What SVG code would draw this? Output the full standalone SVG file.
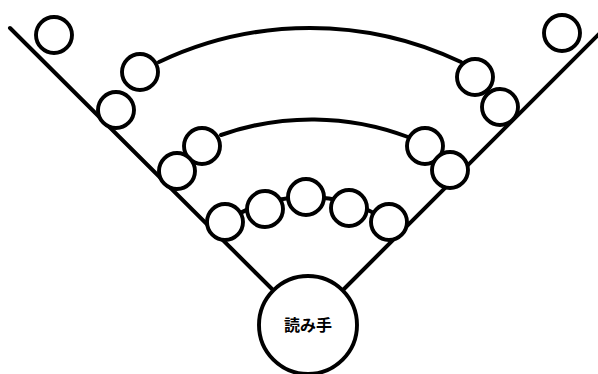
<svg xmlns="http://www.w3.org/2000/svg" width="598" height="374" viewBox="0 0 598 374">
<style>
.n{fill:#fff;stroke:#000;stroke-width:3.9}
.c{fill:none;stroke:#000;stroke-width:4;stroke-linecap:round}
.t{font-family:"Noto Sans CJK JP","Noto Sans CJK SC",sans-serif;font-size:16px;font-weight:bold;fill:#000}
</style>
<rect width="598" height="374" fill="#fff"/>
<g id="connectors">
<path class="c" d="M10,28 L273,290"/>
<path class="c" d="M343,290 L600,33"/>
<path class="c" d="M159,62 A352,352 0 0 1 461,62"/>
<path class="c" d="M221,135 A272,272 0 0 1 408,137"/>
<path class="c" d="M225,222 A147,147 0 0 1 389,222"/>
</g>
<g id="n-tl"><circle class="n" cx="54" cy="35" r="18"/></g>
<g id="n-tr"><circle class="n" cx="562" cy="33" r="18"/></g>
<g id="n-l1a"><circle class="n" cx="140" cy="72" r="18"/></g>
<g id="n-l1b"><circle class="n" cx="116" cy="110" r="18"/></g>
<g id="n-r1a"><circle class="n" cx="475" cy="77" r="18"/></g>
<g id="n-r1b"><circle class="n" cx="500" cy="107" r="18"/></g>
<g id="n-l2a"><circle class="n" cx="202" cy="146" r="18"/></g>
<g id="n-l2b"><circle class="n" cx="177" cy="171" r="18"/></g>
<g id="n-r2a"><circle class="n" cx="425" cy="146" r="18"/></g>
<g id="n-r2b"><circle class="n" cx="450" cy="170" r="18"/></g>
<g id="n-b1"><circle class="n" cx="225" cy="222" r="18"/></g>
<g id="n-b2"><circle class="n" cx="265" cy="209" r="18"/></g>
<g id="n-b3"><circle class="n" cx="306" cy="197" r="18"/></g>
<g id="n-b4"><circle class="n" cx="349" cy="208" r="18"/></g>
<g id="n-b5"><circle class="n" cx="389" cy="222" r="18"/></g>
<g id="reader">
<circle class="n" cx="308" cy="325" r="49"/>
<text class="t" x="308" y="331" text-anchor="middle">読み手</text>
</g>
</svg>
